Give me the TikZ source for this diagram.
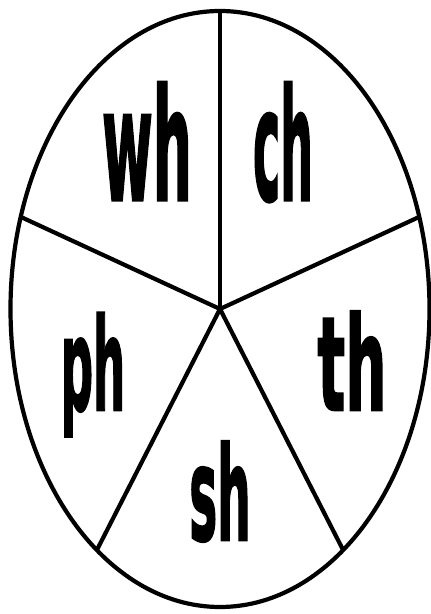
\documentclass[tikz,border=0pt]{standalone}
\usepackage{fontspec}
\usetikzlibrary{calc}
\newfontfamily\spinfont{DejaVu Sans}[BoldFeatures={FakeBold=2}]
\begin{document}
\begin{tikzpicture}[x=1pt,y=1pt,line width=4.2pt,
  lbl/.style={inner sep=0pt, anchor=base, font=\spinfont\bfseries\fontsize{100}{100}\selectfont}]
\useasboundingbox (0,0) rectangle (431,614);
\coordinate (c) at (220,305);
\foreach \i/\a in {1/90,2/162,3/234,4/306,5/18}
  \coordinate (p\i) at ($(c)+(\a:209.5 and 298)$);
\draw (c) ellipse [x radius=209.5, y radius=298];
\foreach \i in {1,...,5} \draw (c) -- (p\i);
\node[lbl] (wh) at (147,414) {\scalebox{0.55}[1.55]{wh}};
\node[lbl] (ch) at (283,414) {\scalebox{0.46}[1.55]{ch}};
\node[lbl] (ph) at (93,204) {\scalebox{0.45}[1.28]{ph}};
\node[lbl] (th) at (352,204) {\scalebox{0.58}[1.3]{th}};
\node[lbl] (sh) at (220,74) {\scalebox{0.47}[1.3]{sh}};
\end{tikzpicture}
\end{document}
